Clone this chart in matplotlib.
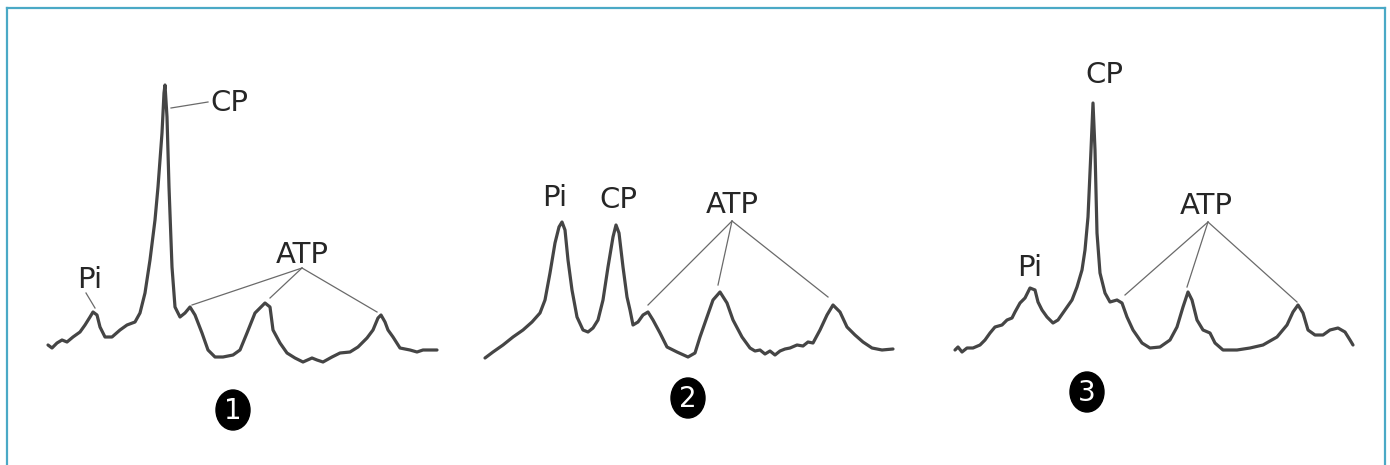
import matplotlib
matplotlib.use("Agg")
import matplotlib.pyplot as plt
from matplotlib.patches import Ellipse
from matplotlib.lines import Line2D

# ---------------- data (shift index, intensity) ----------------
p1_x = [28, 32, 37, 42, 47, 53, 60, 65, 70, 73, 77, 80, 85, 92, 100, 107, 115, 120, 125, 130, 135,
        138, 142, 144, 145, 147, 149, 152, 155, 160, 165, 170, 175, 182, 188, 195, 203, 213, 220,
        227, 235, 245, 250, 253, 260, 267, 275, 283, 292, 297, 303, 312, 320, 330, 338, 347, 353,
        358, 361, 365, 368, 373, 380, 390, 397, 403, 410, 417]
p1_y = [25, 22, 27, 30, 28, 33, 38, 45, 53, 58, 55, 43, 33, 33, 40, 45, 48, 57, 77, 110, 150,
        183, 237, 277, 285, 253, 183, 103, 63, 53, 57, 63, 55, 37, 20, 13, 13, 15, 20,
        37, 57, 67, 63, 40, 27, 17, 12, 8, 12, 10, 8, 13, 17, 18, 23, 32, 40,
        52, 55, 48, 40, 33, 22, 20, 18, 20, 20, 20]

p2_x = [20, 28, 38, 48, 58, 67, 75, 80, 85, 90, 94, 97, 100, 103, 107, 112, 118, 123, 128, 133,
        138, 143, 148, 151, 154, 158, 162, 165, 168, 173, 178, 183, 188, 195, 202, 212, 223, 230,
        235, 242, 248, 255, 262, 268, 277, 285, 290, 295, 300, 305, 310, 315, 320, 325, 332, 338,
        343, 348, 355, 362, 368, 375, 382, 390, 398, 407, 417, 428]
p2_y = [12, 18, 25, 33, 40, 48, 57, 70, 97, 127, 143, 148, 140, 110, 80, 53, 40, 38, 42, 50,
        70, 103, 133, 145, 137, 103, 73, 60, 45, 48, 55, 58, 50, 37, 23, 18, 13, 17,
        33, 53, 70, 78, 67, 50, 33, 22, 19, 20, 16, 19, 15, 19, 21, 22, 25, 24,
        28, 27, 40, 55, 65, 58, 43, 35, 28, 22, 20, 21]

p3_x = [20, 23, 27, 32, 38, 45, 50, 55, 60, 67, 72, 77, 80, 85, 90, 95, 100, 103, 107, 112,
        118, 123, 130, 137, 142, 147, 150, 153, 156, 158, 160, 162, 165, 170, 175, 182, 187, 192,
        198, 207, 215, 225, 235, 242, 248, 253, 257, 262, 268, 275, 280, 288, 302, 315, 328, 342,
        352, 358, 363, 368, 373, 380, 388, 395, 403, 410, 415, 418]
p3_y = [20, 23, 18, 22, 22, 25, 30, 37, 43, 45, 50, 52, 58, 67, 72, 82, 80, 68, 60, 53,
        47, 50, 60, 70, 83, 100, 120, 153, 220, 267, 220, 137, 97, 77, 68, 70, 67, 53,
        40, 27, 22, 23, 30, 43, 63, 78, 70, 50, 40, 37, 27, 20, 20, 22, 25, 33,
        45, 58, 65, 57, 40, 35, 35, 40, 42, 38, 30, 25]

panel_x = [p1_x, p2_x, p3_x]
panel_y = [p1_y, p2_y, p3_y]
panel_numbers = ["1", "2", "3"]

# label texts with (text position) and leader segments
labels = [
    [("Pi", (70, 90), [((66, 77), (75, 62))]),
     ("CP", (209, 267), [((151, 262), (188, 268))]),
     ("ATP", (282, 115), [((282, 102), (172, 65)), ((282, 102), (250, 72)), ((282, 102), (357, 58))])],
    [("Pi", (90, 172), []),
     ("CP", (153, 170), []),
     ("ATP", (267, 165), [((267, 149), (183, 65)), ((267, 149), (253, 85)), ((267, 149), (363, 73))])],
    [("Pi", (95, 102), []),
     ("CP", (169, 295), []),
     ("ATP", (271, 164), [((273, 148), (190, 75)), ((273, 148), (252, 83)), ((273, 148), (362, 68))])],
]
number_pos = [(213, -40), (223, -28), (152, -22)]

# ---------------- figure ----------------
W, H = 1390, 465
fig = plt.figure(figsize=(W / 100, H / 100), dpi=100)
fig.patch.set_facecolor("white")

panel_left = [20, 465, 935]
panel_w = 440
line_col = "#454545"
text_col = "#262626"
lead_col = "#6a6a6a"

for i in range(3):
    ax = fig.add_axes([panel_left[i] / W, 0, panel_w / W, 1])
    ax.set_xlim(0, panel_w)
    ax.set_ylim(-95, 370)
    ax.axis("off")
    ax.plot(panel_x[i], panel_y[i], color=line_col, lw=2.3, solid_joinstyle="round",
            solid_capstyle="round")
    for txt, pos, leads in labels[i]:
        ax.text(pos[0], pos[1], txt, ha="center", va="center", fontsize=21,
                color=text_col, family="DejaVu Sans")
        for a, b in leads:
            ax.plot([a[0], b[0]], [a[1], b[1]], color=lead_col, lw=0.9)
    nx, ny = number_pos[i]
    ax.add_patch(Ellipse((nx, ny), 34, 40, color="black", zorder=5))
    ax.text(nx, ny - 1, panel_numbers[i], ha="center", va="center", fontsize=20,
            color="white", zorder=6)

# teal frame
frame_col = "#4aa9c6"
fig.add_artist(Line2D([7 / W, 7 / W], [0, 1 - 8 / H], color=frame_col, lw=1.6))
fig.add_artist(Line2D([7 / W, 1385 / W], [1 - 8 / H, 1 - 8 / H], color=frame_col, lw=1.6))
fig.add_artist(Line2D([1385 / W, 1385 / W], [0, 1 - 8 / H], color=frame_col, lw=1.6))

fig.savefig("out.png", dpi=100, facecolor="white")
